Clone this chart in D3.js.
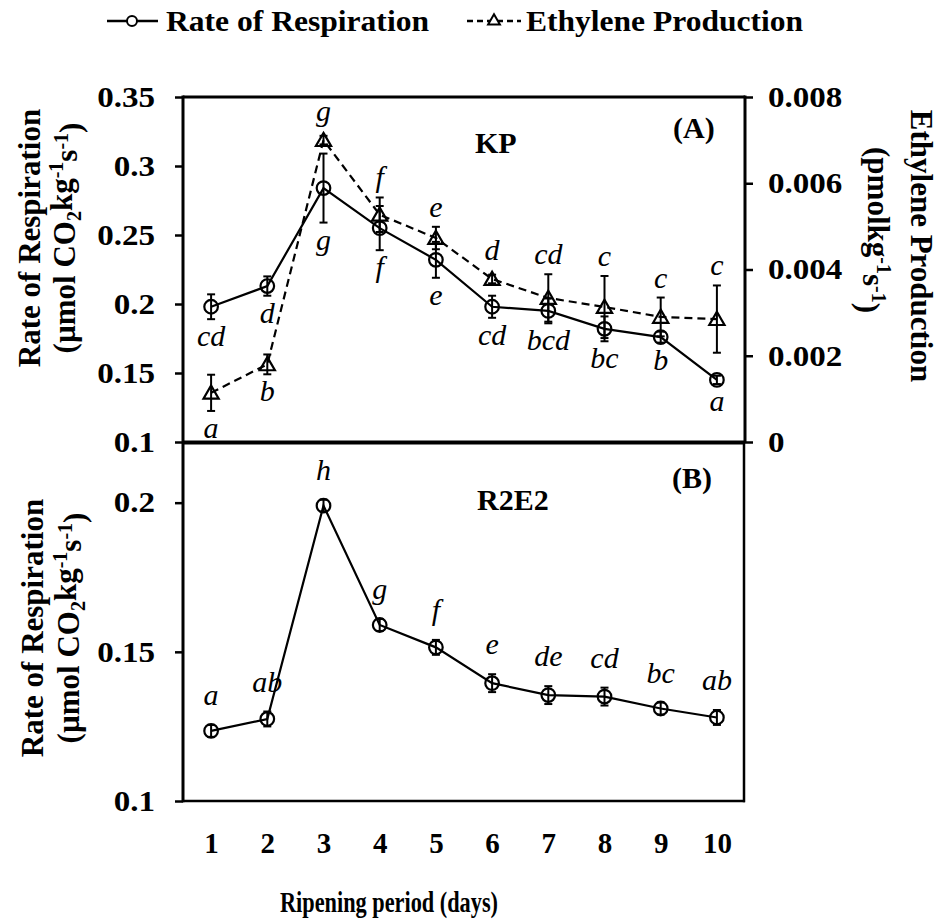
<!DOCTYPE html>
<html>
<head>
<meta charset="utf-8">
<script src="https://cdn.jsdelivr.net/npm/d3@7/dist/d3.min.js"></script>
<style>
  body { margin: 0; background: #fff; }
  svg { display: block; }
  text { font-family: "Liberation Serif", "Times New Roman", serif; fill: #000; }
</style>
</head>
<body>
<svg id="chart" width="940" height="922"></svg>
<script>
// Ripening days
const days = [1, 2, 3, 4, 5, 6, 7, 8, 9, 10];

// (A) KP — rate of respiration (µmol CO2 kg-1 s-1)
const kpResp = [0.198, 0.213, 0.284, 0.255, 0.232, 0.198, 0.195, 0.182, 0.176, 0.145];
const kpRespErr = [0.009, 0.007, 0.025, 0.016, 0.013, 0.008, 0.009, 0.009, 0.004, 0.003];
const kpRespLetters = ["cd", "d", "g", "f", "e", "cd", "bcd", "bc", "b", "a"];

// (A) KP — ethylene production (pmol kg-1 s-1)
const kpEth = [0.00114, 0.0018, 0.0070, 0.00527, 0.00473, 0.00378, 0.00334, 0.00313, 0.0029, 0.00285];
const kpEthErr = [0.00042, 0.00023, 0.0001, 0.0004, 0.00026, 0.0001, 0.00055, 0.00072, 0.00045, 0.00078];
const kpEthLetters = ["a", "b", "g", "f", "e", "d", "cd", "c", "c", "c"];

// (B) R2E2 — rate of respiration
const r2e2Resp = [0.1235, 0.1275, 0.199, 0.159, 0.1515, 0.1395, 0.1355, 0.135, 0.131, 0.128];
const r2e2RespErr = [0.002, 0.0025, 0.002, 0.002, 0.0025, 0.003, 0.003, 0.003, 0.002, 0.0025];
const r2e2Letters = ["a", "ab", "h", "g", "f", "e", "de", "cd", "bc", "ab"];

// Tick values
const respTicksA = [0.1, 0.15, 0.2, 0.25, 0.3, 0.35];
const ethTicks = [0, 0.002, 0.004, 0.006, 0.008];
const respTicksB = [0.1, 0.15, 0.2];

const svg = d3.select("#chart");

const left = 183, right = 745;
const aTop = 97, aBottom = 442;
const bTop = 443, bBottom = 801;

const x = d3.scalePoint().domain(days).range([left, right]).padding(0.5);
const yA = d3.scaleLinear().domain([0.1, 0.35]).range([aBottom, aTop]);
const yEth = d3.scaleLinear().domain([0, 0.008]).range([aBottom, aTop]);
const yB = d3.scaleLinear().domain([0.1, 0.22]).range([bBottom, bTop]);

const fmt = d => String(+d.toFixed(3));

// stretch text horizontally by factor k (the type is set slightly wide)
function widen(sel, k) {
  sel.each(function () {
    const w = this.getComputedTextLength();
    d3.select(this).attr("textLength", w * k).attr("lengthAdjust", "spacingAndGlyphs");
  });
}

function styleAxis(g, size) {
  g.select(".domain").remove();
  g.selectAll(".tick line").attr("stroke", "#000").attr("stroke-width", 2.5);
  g.selectAll(".tick text")
    .style("font-family", "'Liberation Serif', 'Times New Roman', serif")
    .attr("font-size", size)
    .attr("font-weight", "bold")
    .attr("fill", "#000");
}

// ---------- axes ----------
const axL = svg.append("g").attr("transform", `translate(${left},0)`)
  .call(d3.axisLeft(yA).tickValues(respTicksA).tickSize(8).tickPadding(20).tickFormat(fmt))
  .call(styleAxis, 29);
const axR = svg.append("g").attr("transform", `translate(${right},0)`)
  .call(d3.axisRight(yEth).tickValues(ethTicks).tickSize(8).tickPadding(15).tickFormat(fmt))
  .call(styleAxis, 29);
const axLB = svg.append("g").attr("transform", `translate(${left},0)`)
  .call(d3.axisLeft(yB).tickValues(respTicksB).tickSize(8).tickPadding(20).tickFormat(fmt))
  .call(styleAxis, 29);
svg.append("g").attr("transform", `translate(0,${bBottom})`)
  .call(d3.axisBottom(x).tickSize(0).tickPadding(31))
  .call(styleAxis, 29);
[axL, axR, axLB].forEach(a => widen(a.selectAll(".tick text"), 1.14));

// ---------- frames ----------
const frame = svg.append("g").attr("stroke", "#000").attr("fill", "none");
frame.append("line").attr("x1", left).attr("x2", right).attr("y1", aTop).attr("y2", aTop).attr("stroke-width", 3);
frame.append("line").attr("x1", left).attr("x2", left).attr("y1", aTop - 1.5).attr("y2", bBottom + 1.25).attr("stroke-width", 3);
frame.append("line").attr("x1", right).attr("x2", right).attr("y1", aTop - 1.5).attr("y2", aBottom).attr("stroke-width", 3);
frame.append("line").attr("x1", left).attr("x2", right).attr("y1", aBottom + 0.5).attr("y2", aBottom + 0.5).attr("stroke-width", 4);
frame.append("line").attr("x1", right - 1).attr("x2", right - 1).attr("y1", aBottom).attr("y2", bBottom + 1.25).attr("stroke-width", 2.5);
frame.append("line").attr("x1", left).attr("x2", right).attr("y1", bBottom).attr("y2", bBottom).attr("stroke-width", 2.5);

// ---------- series helpers ----------
function series(vals, errs, letters) {
  return days.map((d, i) => ({ day: d, v: vals[i], e: errs[i], label: letters[i] }));
}

function drawErrorBars(g, data, y) {
  const eb = g.append("g").attr("stroke", "#000").attr("stroke-width", 2);
  data.forEach(d => {
    const cx = x(d.day), y0 = y(d.v - d.e), y1 = y(d.v + d.e);
    eb.append("line").attr("x1", cx).attr("x2", cx).attr("y1", y0).attr("y2", y1);
    eb.append("line").attr("x1", cx - 4).attr("x2", cx + 4).attr("y1", y0).attr("y2", y0);
    eb.append("line").attr("x1", cx - 4).attr("x2", cx + 4).attr("y1", y1).attr("y2", y1);
  });
}

function drawLine(g, data, y, dash) {
  g.append("path").datum(data)
    .attr("fill", "none").attr("stroke", "#000").attr("stroke-width", 2.2)
    .attr("stroke-dasharray", dash || null)
    .attr("d", d3.line().x(d => x(d.day)).y(d => y(d.v)));
}

function drawCircles(g, data, y) {
  g.selectAll(null).data(data).join("circle")
    .attr("cx", d => x(d.day)).attr("cy", d => y(d.v)).attr("r", 6.8)
    .attr("fill", "none").attr("stroke", "#000").attr("stroke-width", 2.2);
}

const tri = d3.symbol().type(d3.symbolTriangle).size(100);
function drawTriangles(g, data, y) {
  g.selectAll(null).data(data).join("path")
    .attr("transform", d => `translate(${x(d.day)},${y(d.v) + 1.5})`)
    .attr("d", tri)
    .attr("fill", "none").attr("stroke", "#000").attr("stroke-width", 2.2);
}

function letter(g, cx, baseline, txt) {
  g.append("text").attr("x", cx).attr("y", baseline)
    .attr("text-anchor", "middle").attr("font-style", "italic")
    .attr("font-size", 30).text(txt);
}

// ---------- panel A ----------
const gA = svg.append("g");
const resA = series(kpResp, kpRespErr, kpRespLetters);
const ethA = series(kpEth, kpEthErr, kpEthLetters);

drawLine(gA, ethA, yEth, "8,5");
drawLine(gA, resA, yA);
drawErrorBars(gA, ethA, yEth);
drawErrorBars(gA, resA, yA);
drawTriangles(gA, ethA, yEth);
drawCircles(gA, resA, yA);

// respiration letters sit beneath each point
resA.forEach(d => letter(gA, x(d.day), yA(d.v - d.e) + 27, d.label));
// ethylene letters go above, unless the ethylene point lies below the respiration point
ethA.forEach((d, i) => {
  const below = yEth(d.v) > yA(resA[i].v);
  const base = below
    ? yEth(d.v - d.e) + 27
    : Math.min(yEth(d.v + d.e), yEth(d.v) - 9) - 10;
  letter(gA, x(d.day), base, d.label);
});

gA.append("text").attr("x", 475).attr("y", 153).attr("font-size", 30).attr("font-weight", "bold").text("KP");
gA.append("text").attr("x", 673).attr("y", 138).attr("font-size", 30).attr("font-weight", "bold").text("(A)");

// ---------- panel B ----------
const gB = svg.append("g");
const resB = series(r2e2Resp, r2e2RespErr, r2e2Letters);
drawLine(gB, resB, yB);
drawErrorBars(gB, resB, yB);
drawCircles(gB, resB, yB);
resB.forEach(d => letter(gB, x(d.day), yB(d.v + d.e) - 20, d.label));

gB.append("text").attr("x", 477).attr("y", 510).attr("font-size", 30).attr("font-weight", "bold").text("R2E2");
gB.append("text").attr("x", 672).attr("y", 488).attr("font-size", 30).attr("font-weight", "bold").text("(B)");

// ---------- axis titles ----------
function respTitle(cx1, cx2, cy) {
  const g = svg.append("g").attr("font-weight", "bold").attr("font-size", 31);
  g.append("text").attr("transform", `translate(${cx1},${cy}) rotate(-90)`)
    .attr("text-anchor", "middle").attr("dy", "0.35em").text("Rate of Respiration");
  const t = g.append("text").attr("transform", `translate(${cx2},${cy}) rotate(-90)`)
    .attr("text-anchor", "middle").attr("dy", "0.35em");
  t.append("tspan").text("(µmol CO");
  t.append("tspan").attr("font-size", 20).attr("dy", "0.3em").text("2");
  t.append("tspan").attr("dy", "-0.3em").text("kg");
  t.append("tspan").attr("font-size", 20).attr("dy", "-0.45em").text("-1");
  t.append("tspan").attr("dy", "0.45em").text("s");
  t.append("tspan").attr("font-size", 20).attr("dy", "-0.45em").text("-1");
  t.append("tspan").attr("dy", "0.45em").text(")");
}
respTitle(29, 64, 238);
respTitle(32, 68, 628);

{
  const g = svg.append("g").attr("font-weight", "bold").attr("font-size", 31);
  g.append("text").attr("transform", `translate(922,246) rotate(90)`)
    .attr("text-anchor", "middle").attr("dy", "0.35em").text("Ethylene Production");
  const t = g.append("text").attr("transform", `translate(879,230) rotate(90)`)
    .attr("text-anchor", "middle").attr("dy", "0.35em");
  t.append("tspan").text("(pmolkg");
  t.append("tspan").attr("font-size", 20).attr("dy", "-0.45em").text("-1");
  t.append("tspan").attr("dy", "0.45em").text("s");
  t.append("tspan").attr("font-size", 20).attr("dy", "-0.45em").text("-1");
  t.append("tspan").attr("dy", "0.45em").text(")");
}

svg.append("text").attr("x", 389).attr("y", 912).attr("text-anchor", "middle")
  .attr("font-size", 30).attr("font-weight", "bold")
  .attr("textLength", 218).attr("lengthAdjust", "spacingAndGlyphs")
  .text("Ripening period (days)");

// ---------- legend ----------
const lg = svg.append("g");
lg.append("line").attr("x1", 107).attr("x2", 158).attr("y1", 21).attr("y2", 21)
  .attr("stroke", "#000").attr("stroke-width", 2.5);
lg.append("circle").attr("cx", 132).attr("cy", 21).attr("r", 5)
  .attr("fill", "#fff").attr("stroke", "#000").attr("stroke-width", 2);
lg.append("text").attr("x", 166).attr("y", 31).attr("font-size", 29).attr("font-weight", "bold")
  .attr("textLength", 263).attr("lengthAdjust", "spacingAndGlyphs").text("Rate of Respiration");

lg.append("line").attr("x1", 467).attr("x2", 521).attr("y1", 21).attr("y2", 21)
  .attr("stroke", "#000").attr("stroke-width", 2.5).attr("stroke-dasharray", "6,4");
lg.append("path").attr("transform", "translate(494,21)").attr("d", d3.symbol().type(d3.symbolTriangle).size(60))
  .attr("fill", "#fff").attr("stroke", "#000").attr("stroke-width", 2);
lg.append("text").attr("x", 526).attr("y", 31).attr("font-size", 29).attr("font-weight", "bold")
  .attr("textLength", 277).attr("lengthAdjust", "spacingAndGlyphs").text("Ethylene Production");
</script>
</body>
</html>
